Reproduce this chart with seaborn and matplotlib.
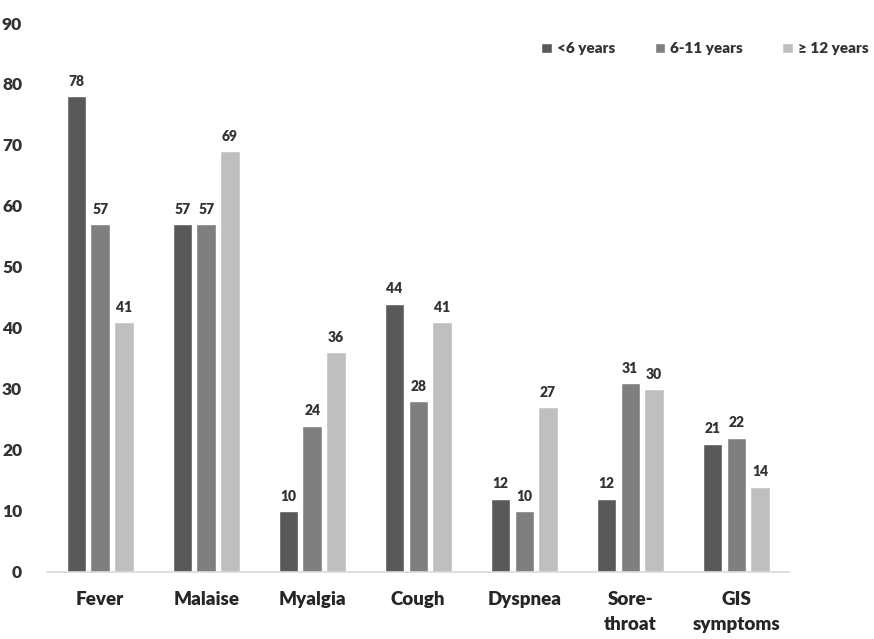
import matplotlib
matplotlib.use("Agg")
import matplotlib.pyplot as plt
import seaborn as sns
import pandas as pd

symptoms = ["Fever", "Malaise", "Myalgia", "Cough", "Dyspnea", "Sore-\nthroat", "GIS\nsymptoms"]
age_groups = ["<6 years", "6-11 years", "\u2265 12 years"]
under_6 = [78, 57, 10, 44, 12, 12, 21]
age_6_11 = [57, 57, 24, 28, 10, 31, 22]
age_12_plus = [41, 69, 36, 41, 27, 30, 14]
colors = ["#595959", "#7f7f7f", "#bfbfbf"]

rows = []
for grp, vals in zip(age_groups, [under_6, age_6_11, age_12_plus]):
    for s, v in zip(symptoms, vals):
        rows.append({"Symptom": s, "Age": grp, "Value": v})
df = pd.DataFrame(rows)

sns.set_style("white")
plt.rcParams["font.family"] = ["Lato", "DejaVu Sans"]
W = "heavy"

fig = plt.figure(figsize=(8.74, 6.39), dpi=100)
ax = fig.add_axes([0.054, 0.105, 0.849, 0.859])

sns.barplot(data=df, x="Symptom", y="Value", hue="Age", order=symptoms,
            hue_order=age_groups, palette=colors, width=0.67, gap=0.18,
            saturation=1, errorbar=None, ax=ax)

for cont in ax.containers:
    ax.bar_label(cont, fmt="%d", padding=6, fontsize=10, fontweight=W, color="#333333")

ax.set_ylim(0, 90)
ax.set_xlim(-0.5, 6.5)
ax.set_yticks(range(0, 91, 10))
ax.set_xlabel("")
ax.set_ylabel("")
for side in ["top", "right", "left"]:
    ax.spines[side].set_visible(False)
ax.spines["bottom"].set_color("#d9d9d9")
ax.spines["bottom"].set_linewidth(1.2)
ax.tick_params(axis="y", length=0, pad=18, labelsize=12.5, labelcolor="#333333")
ax.tick_params(axis="x", length=0, pad=14, labelsize=13.5, labelcolor="#262626")
for t in ax.get_yticklabels():
    t.set_fontweight(W)
for t in ax.get_xticklabels():
    t.set_fontweight(W)
    t.set_linespacing(1.55)

leg = ax.legend(loc="upper right", bbox_to_anchor=(1.125, 0.99), ncol=3, frameon=False,
                handlelength=0.7, handleheight=0.7, handletextpad=0.3, columnspacing=2.6,
                prop={"weight": W, "size": 11})
for t in leg.get_texts():
    t.set_color("#333333")

fig.savefig("out.png", dpi=100)
